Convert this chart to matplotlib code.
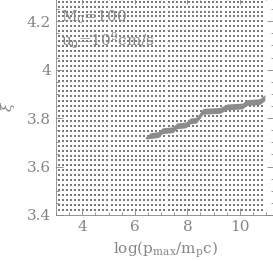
import numpy as np
import matplotlib.pyplot as plt
from matplotlib.ticker import MultipleLocator

# parameter grid (dots)
x_grid = np.arange(3.1, 10.9, 0.155)
y_grid = np.arange(3.42, 4.31, 0.0205)

# shaded band: x positions, lower and upper edge of xi
band_x = [6.40, 6.60, 6.90, 7.05, 7.45, 7.60, 7.95, 8.10, 8.35, 8.60, 9.25, 9.50, 10.10, 10.25, 10.75, 10.95]
band_lo = [3.714, 3.716, 3.720, 3.736, 3.740, 3.756, 3.760, 3.776, 3.780, 3.816, 3.820, 3.834, 3.838, 3.852, 3.856, 3.872]
band_hi = [3.722, 3.740, 3.744, 3.760, 3.764, 3.780, 3.784, 3.800, 3.804, 3.840, 3.844, 3.858, 3.862, 3.876, 3.880, 3.897]

plt.rcParams['font.family'] = 'DejaVu Serif'
plt.rcParams['mathtext.fontset'] = 'dejavuserif'
gray = '#858585'

fig = plt.figure(figsize=(2.73, 2.61), dpi=100)
ax = fig.add_axes([56/273, 46/261, 218/273, 218/261])

gx, gy = np.meshgrid(x_grid, y_grid)
ax.scatter(gx.ravel(), gy.ravel(), s=0.75, marker='s', color='#7a7a7a', linewidths=0)
ax.fill_between(band_x, band_lo, band_hi, color='#8c8c8c', linewidth=0)

ax.set_xlim(3, 11.3)
ax.set_ylim(3.4, 4.3)
ax.xaxis.set_major_locator(MultipleLocator(2))
ax.xaxis.set_minor_locator(MultipleLocator(0.5))
ax.yaxis.set_minor_locator(MultipleLocator(0.05))
ax.set_yticks([3.4, 3.6, 3.8, 4.0, 4.2])
ax.set_yticklabels(['3.4', '3.6', '3.8', '4', '4.2'])
ax.tick_params(which='both', direction='in', top=True, right=True,
               colors=gray, labelsize=11, width=0.6)
ax.tick_params(which='major', length=5)
ax.tick_params(which='minor', length=2.5)
for s in ax.spines.values():
    s.set_color(gray)
    s.set_linewidth(0.6)

ax.set_xlabel(r'log(p$_{\rm max}$/m$_{\rm p}$c)', color=gray, fontsize=11, labelpad=4)
ax.set_ylabel(r'$\xi$', color=gray, fontsize=11, labelpad=7)

ax.text(3.2, 4.215, r'M$_0$=100', color=gray, fontsize=11, va='center')
ax.text(3.2, 4.12, r'u$_0$=10$^9$cm/s', color=gray, fontsize=11, va='center')

fig.savefig('out.png', dpi=100)
